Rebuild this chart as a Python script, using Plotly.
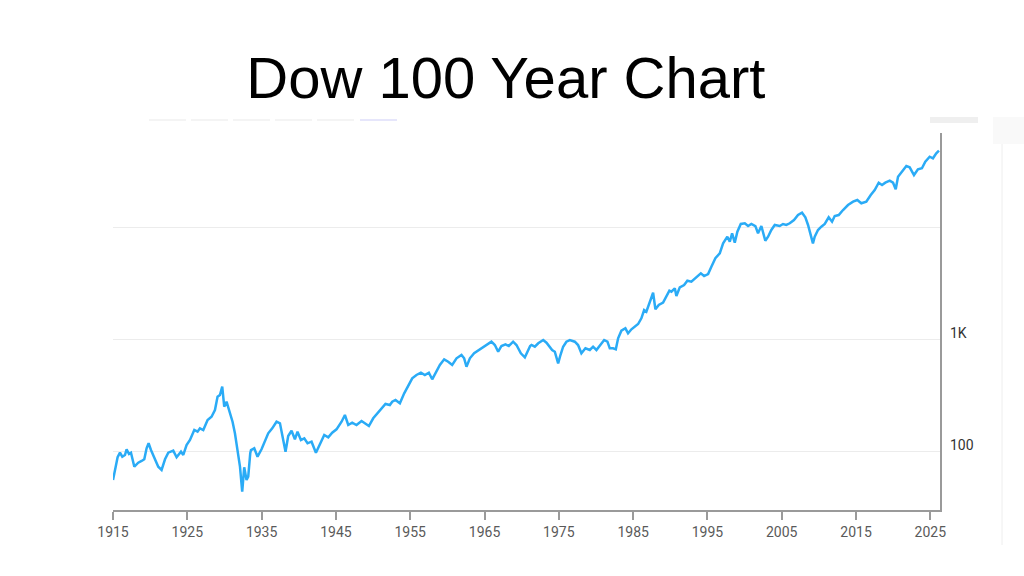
import plotly.graph_objects as go
import math

# ---- data ----
years = [1915.00, 1915.27, 1915.62, 1915.94, 1916.25, 1916.61, 1916.83, 1917.15, 1917.42, 1917.87,
         1918.40, 1918.85, 1919.21, 1919.52, 1919.79, 1920.11, 1920.65, 1921.09, 1921.54, 1922.00,
         1922.44, 1923.11, 1923.56, 1924.15, 1924.46, 1924.90, 1925.36, 1925.94, 1926.38, 1926.70,
         1927.15, 1927.73, 1928.26, 1928.72, 1929.07, 1929.39, 1929.70, 1929.97, 1930.28, 1930.74,
         1931.09, 1931.41, 1931.76, 1932.09, 1932.39, 1932.66, 1932.97, 1933.20, 1933.47, 1933.57,
         1934.01, 1934.45, 1934.99, 1935.45, 1935.89, 1936.43, 1937.01, 1937.47, 1937.91, 1938.22,
         1938.58, 1939.03, 1939.48, 1939.83, 1940.29, 1940.74, 1941.18, 1941.72, 1942.31, 1942.85,
         1943.43, 1943.97, 1944.50, 1945.08, 1945.76, 1946.21, 1946.66, 1947.19, 1947.77, 1948.45,
         1948.90, 1949.44, 1950.02, 1950.60, 1951.14, 1951.67, 1952.26, 1952.58, 1953.02, 1953.61,
         1954.19, 1954.73, 1955.27, 1955.84, 1956.44, 1956.97, 1957.51, 1957.96, 1958.53, 1958.99,
         1959.57, 1960.11, 1960.65, 1961.23, 1961.90, 1962.26, 1962.57, 1963.03, 1963.60, 1964.14,
         1964.81, 1965.40, 1965.93, 1966.39, 1966.84, 1967.28, 1967.82, 1968.27, 1968.85, 1969.30,
         1969.89, 1970.43, 1970.78, 1971.14, 1971.32, 1971.77, 1972.23, 1972.90, 1973.34, 1973.79,
         1974.10, 1974.46, 1974.91, 1975.22, 1975.58, 1976.02, 1976.48, 1977.15, 1977.59, 1978.04,
         1978.58, 1979.17, 1979.61, 1980.06, 1980.52, 1981.10, 1981.54, 1981.86, 1982.31, 1982.67,
         1982.98, 1983.42, 1983.96, 1984.32, 1984.77, 1985.23, 1985.67, 1986.11, 1986.48, 1986.78,
         1987.24, 1987.69, 1988.00, 1988.45, 1989.03, 1989.48, 1989.88, 1990.15, 1990.61, 1990.82,
         1991.28, 1991.86, 1992.30, 1992.84, 1993.38, 1994.11, 1994.55, 1995.09, 1995.53, 1996.07,
         1996.66, 1997.11, 1997.68, 1998.01, 1998.32, 1998.68, 1999.03, 1999.49, 2000.03, 2000.47,
         2000.91, 2001.45, 2001.81, 2002.26, 2002.79, 2003.16, 2003.60, 2004.06, 2004.73, 2005.17,
         2005.62, 2006.08, 2006.65, 2007.19, 2007.73, 2008.18, 2008.54, 2008.81, 2009.20, 2009.44,
         2009.88, 2010.33, 2010.79, 2011.32, 2011.77, 2012.13, 2012.67, 2013.25, 2013.92, 2014.60,
         2015.17, 2015.71, 2016.38, 2016.98, 2017.51, 2018.05, 2018.50, 2018.94, 2019.53, 2019.98,
         2020.34, 2020.65, 2021.19, 2021.77, 2022.22, 2022.80, 2023.33, 2023.87, 2024.32, 2024.91,
         2025.35, 2025.80, 2026.16]

dow = [55.6, 70.8, 88.8, 97.6, 89.9, 93.1, 104.6, 95.0, 97.6, 73.2,
       79.4, 82.3, 85.2, 106.8, 118.4, 103.1, 85.2, 73.2, 68.4, 85.2,
       97.6, 101.7, 88.8, 99.6, 93.1, 114.3, 126.7, 155.6, 150.3, 161.1,
       155.6, 191.1, 204.5, 234.7, 308.5, 319.5, 379.0, 251.2, 278.4, 219.3,
       184.5, 145.4, 99.6, 73.2, 43.8, 72.3, 55.6, 59.6, 96.4, 103.1,
       106.8, 89.9, 104.6, 122.3, 145.4, 161.1, 184.5, 178.6, 131.2, 99.6,
       137.5, 153.3, 128.5, 150.3, 126.7, 131.2, 118.4, 122.3, 97.6, 118.4,
       140.4, 133.9, 147.2, 157.8, 184.5, 211.8, 172.4, 180.8, 172.4, 187.2,
       178.6, 168.9, 197.9, 219.3, 243.0, 265.6, 260.2, 278.4, 288.3, 269.4,
       330.8, 392.5, 450.4, 482, 505.3, 482, 505.3, 441.2, 515.8, 592,
       665.5, 633.6, 592, 679.3, 727.1, 679.3, 571.6, 679.3, 753, 794.3,
       862.4, 911.6, 955.9, 893.1, 778.2, 875, 906, 875, 955.9, 893.1,
       753, 693.5, 778.2, 875, 893.1, 862.4, 925, 989.7, 936.3, 862.4,
       805.9, 778.2, 613.1, 727.1, 862.4, 955.9, 989.7, 955.9, 893.1, 753,
       834.5, 805.9, 862.4, 805.9, 893.1, 989.7, 955.9, 834.5, 834.5, 817.5,
       1025, 1198, 1259, 1136, 1233, 1301, 1375, 1546, 1834, 1771,
       2175, 2617, 1861, 2032, 2131, 2411, 2727, 2672, 2865, 2446,
       2925, 3066, 3350, 3282, 3519, 3900, 3690, 3845, 4467, 5309,
       5885, 7226, 8278, 7468, 8876, 7317, 9173, 10750, 10900, 10310,
       10750, 10310, 8876, 10310, 7622, 8278, 9499, 10530, 10310, 10750,
       10530, 10900, 11670, 12930, 13560, 12330, 10530, 8876, 7226, 8278,
       9499, 10160, 10750, 12330, 11270, 12670, 12930, 14330, 15880, 17000,
       17600, 16450, 17000, 19510, 21610, 25120, 23960, 25120, 26180, 25120,
       21930, 28410, 31500, 35410, 34480, 29420, 33080, 33780, 38680, 42870,
       41490, 45970, 48510]

x_ticks = [1915, 1925, 1935, 1945, 1955, 1965, 1975, 1985, 1995, 2005, 2015, 2025]
x_tick_labels = [str(v) for v in x_ticks]
grid_values = [100, 1000, 10000]
y_label_values = [100, 1000]
y_labels = ["100", "1K"]

title_text = "Dow 100 Year Chart"

# ---- figure ----
fig = go.Figure()
fig.add_trace(go.Scatter(
    x=years, y=dow, mode="lines",
    line=dict(color="#2aabf6", width=2.5),
    hoverinfo="skip", showlegend=False,
))

W, H = 1024, 576
L, R, T, B = 113, 940, 133, 510  # plot area pixel box


def px(xp):
    return (xp - L) / (R - L)


def py(yp):
    return (B - yp) / (B - T)


fig.update_layout(
    width=W, height=H,
    margin=dict(l=L, r=W - R, t=T, b=H - B, pad=0),
    paper_bgcolor="white", plot_bgcolor="white",
    title=dict(text=title_text, x=0.494, xanchor="center", y=1 - 78 / H, yanchor="middle",
               font=dict(family="Liberation Sans, Arial, sans-serif", size=58, color="#000000")),
    font=dict(family="Roboto, sans-serif", size=14, color="#555555"),
)

fig.update_xaxes(
    range=[1915.0, 2026.3],
    tickmode="array", tickvals=x_ticks, ticktext=x_tick_labels,
    showgrid=False, zeroline=False,
    showline=True, linecolor="#9a9a9a", linewidth=1.5,
    ticks="outside", ticklen=8, tickcolor="#9a9a9a", tickwidth=1.5,
    tickfont=dict(family="Roboto, sans-serif", size=14, color="#5a5a5a"),
)

fig.update_yaxes(
    type="log", side="right",
    range=[1.4777, 4.8438],
    tickmode="array", tickvals=grid_values,
    showticklabels=False,
    showgrid=True, gridcolor="#ececec", gridwidth=1,
    zeroline=False,
    showline=True, linecolor="#9a9a9a", linewidth=2,
    ticks="",
)

for v, t in zip(y_label_values, y_labels):
    fig.add_annotation(
        x=1, xref="paper", xanchor="left", xshift=8,
        y=math.log10(v), yref="y", yanchor="middle", yshift=7,
        text=t, showarrow=False,
        font=dict(family="Roboto, sans-serif", size=14, color="#333333"),
    )

# faint screenshot artefacts: range-selector remnants and side panel
btn_lefts = [149, 191, 233, 275, 317, 360]
for i, bx in enumerate(btn_lefts):
    fig.add_shape(type="rect", xref="paper", yref="paper",
                  x0=px(bx), x1=px(bx + 37), y0=py(121), y1=py(119),
                  line=dict(width=0),
                  fillcolor="#e6e6fb" if i == len(btn_lefts) - 1 else "#f4f4f4",
                  layer="below")
fig.add_shape(type="rect", xref="paper", yref="paper",
              x0=px(930), x1=px(978), y0=py(123), y1=py(117),
              line=dict(width=0), fillcolor="#efefef", layer="below")
fig.add_shape(type="rect", xref="paper", yref="paper",
              x0=px(993), x1=px(1024), y0=py(144), y1=py(117),
              line=dict(width=0), fillcolor="#f9f9f9", layer="below")
fig.add_shape(type="line", xref="paper", yref="paper",
              x0=px(1002), x1=px(1002), y0=py(545), y1=py(144),
              line=dict(color="#eeeeee", width=1), layer="below")

fig.write_html("out.html", config={"displayModeBar": False},
               post_script="document.body.style.margin='0px';document.body.style.overflow='hidden';")
